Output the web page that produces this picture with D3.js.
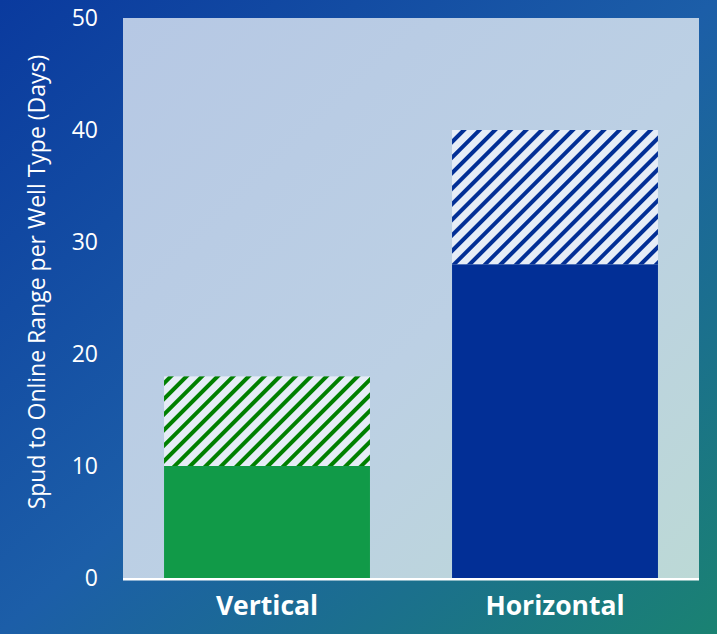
<!DOCTYPE html>
<html>
<head>
<meta charset="utf-8">
<style>
  body { margin: 0; }
  svg { display: block; }
</style>
</head>
<body>
<svg width="717" height="634"></svg>
<script src="https://d3js.org/d3.v7.min.js"></script>
<script>
const categories = ["Vertical", "Horizontal"];
const minDays = [10, 28];
const maxDays = [18, 40];
const yTicks = [0, 10, 20, 30, 40, 50];
const solidColors = ["#119a48", "#022f96"];
const hatchColors = ["#008000", "#022f96"];

const width = 717, height = 634;
const plot = { left: 123, right: 699, top: 18, bottom: 578 };

const svg = d3.select("svg");
const defs = svg.append("defs");

// background gradients
const bg = defs.append("linearGradient").attr("id", "bg")
  .attr("x1", "0%").attr("y1", "0%").attr("x2", "100%").attr("y2", "100%");
bg.append("stop").attr("offset", "0%").attr("stop-color", "#0a3a9e");
bg.append("stop").attr("offset", "50%").attr("stop-color", "#1c5ea8");
bg.append("stop").attr("offset", "100%").attr("stop-color", "#1a8272");

const pg = defs.append("linearGradient").attr("id", "pg")
  .attr("x1", "0%").attr("y1", "0%").attr("x2", "100%").attr("y2", "100%");
pg.append("stop").attr("offset", "0%").attr("stop-color", "#b6c8e4");
pg.append("stop").attr("offset", "55%").attr("stop-color", "#bcd0e4");
pg.append("stop").attr("offset", "100%").attr("stop-color", "#bcd9d6");

// hatch patterns
hatchColors.forEach((c, i) => {
  const p = defs.append("pattern").attr("id", "hatch" + i)
    .attr("patternUnits", "userSpaceOnUse")
    .attr("width", 11).attr("height", 11)
    .attr("patternTransform", "rotate(45)");
  p.append("rect").attr("width", 11).attr("height", 11).attr("fill", "#e6edf7");
  p.append("rect").attr("x", 0).attr("y", 0).attr("width", 4).attr("height", 11).attr("fill", c);
});

svg.append("rect").attr("width", width).attr("height", height).attr("fill", "url(#bg)");
svg.append("rect")
  .attr("x", plot.left).attr("y", plot.top)
  .attr("width", plot.right - plot.left).attr("height", plot.bottom - plot.top)
  .attr("fill", "url(#pg)");

const x = d3.scaleBand().domain(categories).range([plot.left, plot.right])
  .paddingInner(0.285).paddingOuter(0.1425);
const y = d3.scaleLinear().domain([0, 50]).range([plot.bottom, plot.top]);

// hatched range (min to max)
svg.selectAll(".range").data(categories).enter().append("rect")
  .attr("x", d => x(d))
  .attr("width", x.bandwidth())
  .attr("y", (d, i) => y(maxDays[i]))
  .attr("height", (d, i) => y(minDays[i]) - y(maxDays[i]))
  .attr("fill", (d, i) => "url(#hatch" + i + ")");

// solid minimum
svg.selectAll(".min").data(categories).enter().append("rect")
  .attr("x", d => x(d))
  .attr("width", x.bandwidth())
  .attr("y", (d, i) => y(minDays[i]))
  .attr("height", (d, i) => y(0) - y(minDays[i]))
  .attr("fill", (d, i) => solidColors[i]);

// baseline
svg.append("line")
  .attr("x1", plot.left).attr("x2", plot.right)
  .attr("y1", y(0) + 1.2).attr("y2", y(0) + 1.2)
  .attr("stroke", "#ffffff").attr("stroke-width", 2.4);

// y axis labels
const yAxis = d3.axisLeft(y).tickValues(yTicks).tickSize(0).tickPadding(0);
const gy = svg.append("g").attr("transform", "translate(98,0)").call(yAxis);
gy.select(".domain").remove();
gy.selectAll("text")
  .attr("fill", "#ffffff")
  .attr("font-family", "'Open Sans', sans-serif")
  .attr("font-size", "23px");

// x labels
const xAxis = d3.axisBottom(x).tickSize(0).tickPadding(0);
const gx = svg.append("g").attr("transform", "translate(0,596)").call(xAxis);
gx.select(".domain").remove();
gx.selectAll("text")
  .attr("fill", "#ffffff")
  .attr("font-family", "'Open Sans', sans-serif")
  .attr("font-weight", "bold")
  .attr("font-size", "26.5px");

// y title
svg.append("text")
  .attr("transform", "translate(45,282) rotate(-90)")
  .attr("text-anchor", "middle")
  .attr("fill", "#ffffff")
  .attr("font-family", "'Open Sans', sans-serif")
  .attr("font-size", "23px")
  .text("Spud to Online Range per Well Type (Days)");
</script>
</body>
</html>
